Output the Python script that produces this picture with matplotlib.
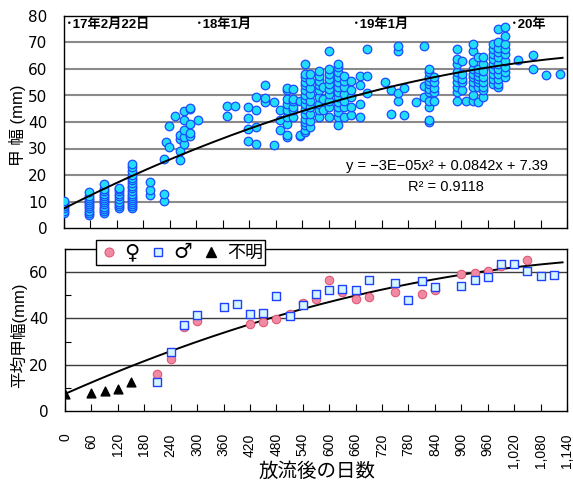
import matplotlib
matplotlib.use("Agg")
import matplotlib.pyplot as plt
import numpy as np
from matplotlib.ticker import FuncFormatter, MultipleLocator
from matplotlib.lines import Line2D

plt.rcParams['font.family'] = ['Liberation Sans', 'Noto Sans CJK JP', 'DejaVu Sans']

# ---------------- data: individual carapace widths (top panel) ----------------
survey_days = [0, 56, 90, 124, 153, 196, 227, 232, 239, 251, 264, 273, 286, 304,
               369, 388, 416, 435, 456, 476, 490, 505, 520, 535,
               546, 558, 577, 588, 601, 622, 635, 650, 671, 686,
               728, 741, 756, 771, 798, 816, 828, 838,
               890, 903, 911, 928, 938, 950, 972, 984, 1000,
               1030, 1064, 1093, 1124]
survey_widths = [
    [5.8, 6.6, 7.4, 8.2, 9.0, 9.6, 10.3],
    [4.9, 5.8, 6.6, 7.4, 8.2, 9.0, 9.8, 10.6, 11.4, 12.2, 13.6],
    [5.8, 6.5, 7.3, 8.1, 8.9, 9.7, 10.5, 11.3, 12.1, 13.0, 13.8, 14.8, 16.5],
    [7.4, 8.2, 9.0, 10.0, 11.0, 12.0, 13.0, 13.8, 14.6, 15.2],
    [7.4, 8.2, 9.0, 9.8, 10.6, 11.4, 12.2, 13.0, 14.0, 15.0, 16.0, 17.0, 18.0,
     19.0, 20.0, 21.5, 23.0, 24.0],
    [12.3, 14.3, 17.2],
    [10.3, 13.0, 26.2],
    [32.4],
    [30.6, 38.5],
    [42.1],
    [25.6, 29.1, 33.7, 35.0],
    [31.8, 34.2, 36.8, 40.6, 44.1],
    [34.8, 36.0, 39.4, 44.8, 45.2],
    [40.6],
    [42.1, 46.2],
    [46.0],
    [32.8, 37.5, 41.6, 45.6],
    [31.8, 38.3, 44.6, 49.4],
    [47.5, 49.1, 53.8],
    [31.2, 47.5],
    [36.8, 40.6, 44.4],
    [34.5, 35.0, 39.4, 41.8, 44.4, 46.9, 48.8, 51.9, 52.8],
    [41.8, 44.4, 45.6, 48.1, 48.8, 52.5],
    [34.6, 35.0, 48.1],
    [36.2, 36.8, 38.7, 40.0, 41.2, 43.1, 45.0, 46.9, 48.8, 50.0, 51.9, 53.8,
     55.0, 56.9, 58.1, 61.9],
    [38.0, 40.5, 43.0, 45.5, 48.0, 50.5, 53.0, 55.5, 58.0],
    [41.8, 44.4, 46.9, 49.4, 51.9, 53.8, 55.6, 57.5, 59.4],
    [44.4, 48.8, 53.1],
    [41.8, 45.6, 48.1, 50.6, 52.5, 54.4, 56.3, 58.1, 60.0, 66.9],
    [38.7, 41.8, 43.8, 45.6, 47.5, 49.4, 51.3, 53.1, 55.0, 56.9, 58.8, 60.7, 62.0],
    [41.8, 45.6, 48.1, 50.6, 53.1, 55.6, 57.5],
    [42.5, 45.6, 49.4, 51.9, 55.6],
    [41.8, 46.9, 53.8, 57.5],
    [50.9, 57.5, 67.6],
    [55.0],
    [43.1, 51.9],
    [48.1, 50.9, 66.7, 68.8],
    [42.5, 52.9],
    [47.5],
    [49.4, 53.4, 68.8],
    [40.0, 40.6, 45.6, 48.1, 51.3, 52.5, 54.4, 55.6, 56.9, 58.8, 60.0],
    [48.1, 51.3, 53.0, 55.0, 56.9],
    [48.1, 51.3, 53.1, 55.0, 56.9, 58.8, 61.9, 63.8, 67.6],
    [51.9, 55.0, 56.3, 58.1, 63.2],
    [47.9],
    [48.1, 50.0, 53.1, 55.0, 56.9, 58.1, 60.0, 62.5, 66.7, 69.4],
    [47.5, 53.1, 55.0, 56.3, 57.5, 58.8, 60.0, 64.4],
    [49.4, 51.9, 53.1, 55.0, 56.9, 59.4, 61.9, 64.4],
    [54.4, 56.3, 58.1, 60.0, 61.9, 63.8, 65.7, 67.6, 69.4],
    [53.1, 54.4, 56.3, 58.1, 60.0, 61.9, 64.4, 66.3, 68.1, 70.0, 75.0],
    [56.9, 58.8, 60.7, 63.2, 65.7, 67.6, 69.4, 72.6, 75.7],
    [63.4],
    [60.0, 65.4],
    [57.9],
    [58.2],
]

# ---------------- data: mean carapace widths (bottom panel) ----------------
female_days = [210, 240, 270, 300, 420, 450, 480, 510, 540, 570, 600, 630, 660, 690,
               750, 810, 840, 900, 930, 960, 990, 1050]
female_mean = [16.1, 22.3, 36.2, 39.0, 37.5, 38.5, 39.6, 42.0, 46.6, 48.2, 56.7,
               51.6, 48.3, 49.3, 51.6, 50.6, 52.3, 59.1, 59.6, 60.3, 62.5, 65.2]
male_days = [210, 240, 270, 300, 360, 390, 420, 450, 480, 510, 540, 570, 600, 630,
             660, 690, 750, 780, 810, 840, 900, 930, 960, 990, 1020, 1050, 1080, 1110]
male_mean = [12.6, 25.3, 37.1, 41.3, 44.9, 46.1, 41.7, 42.3, 49.6, 41.2, 46.0, 50.4,
             52.3, 52.6, 52.3, 56.4, 55.5, 48.0, 56.2, 53.5, 54.0, 56.7, 58.0, 63.6,
             63.6, 60.3, 58.3, 58.7]
unknown_days = [0, 60, 90, 120, 150]
unknown_mean = [7.4, 7.7, 8.7, 9.6, 12.4]

# quadratic trend (from the chart's equation)
trend_coef = [-3e-05, 0.0842, 7.39]
trend_end = 1130

date_labels = ['･17年2月22日', '･18年1月', '･19年1月', '･20年']
date_label_days = [4, 300, 656, 1014]
equation_text = 'y = −3E−05x² + 0.0842x + 7.39'
r2_text = 'R² = 0.9118'
legend_labels = ['♀', '♂', '不明']

xticks = list(range(0, 1141, 60))

# ---------------- figure ----------------
fig = plt.figure(figsize=(5.73, 4.83), dpi=100)
W, H = 573, 483
ax1 = fig.add_axes([64 / W, 1 - 228 / H, (567 - 64) / W, (228 - 16) / H])
ax2 = fig.add_axes([65 / W, 1 - 411 / H, (567 - 65) / W, (411 - 249) / H])

tx = np.linspace(0, trend_end, 300)
ty = np.polyval(trend_coef, tx)

# top panel
xs = []
ys = []
for d, vals in zip(survey_days, survey_widths):
    for v in vals:
        xs.append(d)
        ys.append(v)
ax1.scatter(xs, ys, s=38, c='#22DDF8', edgecolors='#1B4BFF', linewidths=0.9, zorder=3)
ax1.plot(tx, ty, color='black', lw=1.4, zorder=4)
ax1.set_xlim(0, 1140)
ax1.set_ylim(0, 80)
ax1.set_yticks(range(0, 81, 10))
ax1.set_xticks(xticks)
ax1.tick_params(axis='x', direction='in', length=6, labelbottom=False, width=0.8)
ax1.tick_params(axis='y', length=0, pad=12)
for lab in ax1.get_yticklabels():
    lab.set_fontfamily('DejaVu Sans')
    lab.set_fontsize(11)
for yv in range(10, 80, 10):
    ax1.axhline(yv, color='#8a8a8a', lw=1.5, zorder=1)
for sp in ax1.spines.values():
    sp.set_linewidth(1.0)

for lbl, d in zip(date_labels, date_label_days):
    ax1.text(d, 76.6, lbl, fontsize=9.5, fontweight='bold', va='center', ha='left', zorder=5)
ax1.text(1097, 23.3, equation_text, fontsize=10.5, ha='right', va='center', zorder=5)
ax1.text(866, 15.6, r2_text, fontsize=10.5, ha='center', va='center', zorder=5)

fig.text(17.5 / W, 1 - 125 / H, '甲 幅 (mm)', rotation=90, ha='center', va='center',
         fontsize=12)

# bottom panel
for yv in (20, 40, 60):
    ax2.axhline(yv, color='#3c3c3c', lw=1.0, zorder=1)
ax2.plot(tx, ty, color='black', lw=1.4, zorder=2)
ax2.scatter(female_days, female_mean, s=38, marker='o', c='#F08AA2', edgecolors='#E0506E',
            linewidths=0.7, zorder=3)
ax2.scatter(male_days, male_mean, s=26, marker='s', c='#D6F6FF', edgecolors='#2040FF',
            linewidths=1.0, zorder=4)
ax2.scatter(unknown_days, unknown_mean, s=40, marker='^', c='black', zorder=5)
ax2.set_xlim(0, 1140)
ax2.set_ylim(0, 70)
ax2.set_yticks([0, 20, 40, 60])
ax2.yaxis.set_minor_locator(MultipleLocator(10))
ax2.set_xticks(xticks)
ax2.xaxis.set_major_formatter(FuncFormatter(lambda v, p: '{:,}'.format(int(v))))
ax2.tick_params(axis='x', direction='in', length=5, labelrotation=90, pad=16,
                labelsize=10, width=0.8)
ax2.tick_params(axis='y', which='major', direction='in', length=0, pad=12)
ax2.tick_params(axis='y', which='minor', direction='in', length=4, width=0.8)
for lab in ax2.get_yticklabels():
    lab.set_fontfamily('DejaVu Sans')
    lab.set_fontsize(11)
for sp in ax2.spines.values():
    sp.set_linewidth(1.0)

handles = [
    Line2D([], [], ls='none', marker='o', markersize=6.5, markerfacecolor='#F08AA2',
           markeredgecolor='#E0506E', markeredgewidth=0.7),
    Line2D([], [], ls='none', marker='s', markersize=5.5, markerfacecolor='#D6F6FF',
           markeredgecolor='#2040FF', markeredgewidth=1.0),
    Line2D([], [], ls='none', marker='^', markersize=7, color='black'),
]
leg = ax2.legend(handles, legend_labels, loc='upper left',
                 bbox_to_anchor=(0.062, 1.058), ncol=3, fontsize=13, frameon=True,
                 fancybox=False, edgecolor='black', framealpha=1, borderpad=0.15,
                 handletextpad=0.3, columnspacing=0.5, handlelength=1.1,
                 borderaxespad=0)
for t in leg.get_texts()[:2]:
    t.set_fontfamily('DejaVu Sans')
    t.set_fontsize(15)
leg.get_frame().set_linewidth(1.0)
leg.set_zorder(10)

fig.text(19 / W, 1 - 335 / H, '平均甲幅(mm)', rotation=90, ha='center', va='center',
         fontsize=12)
fig.text(317 / W, 1 - 472 / H, '放流後の日数', ha='center', va='center', fontsize=14)

fig.savefig('out.png', dpi=100)
